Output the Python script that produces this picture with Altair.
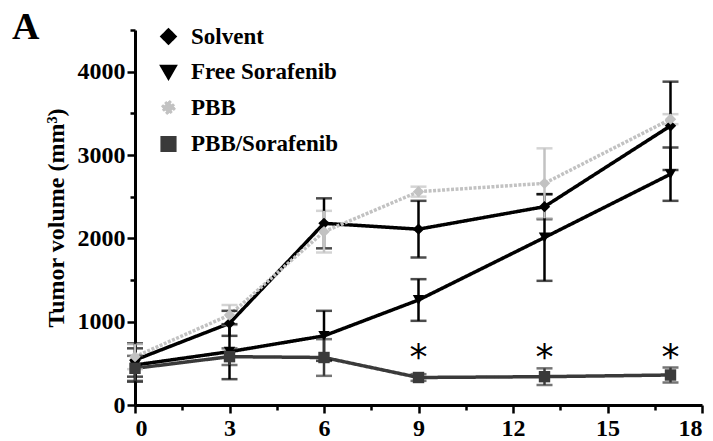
import altair as alt
import pandas as pd

days = [0, 3, 6, 9, 13, 17]
series_names = ["Solvent", "Free Sorafenib", "PBB", "PBB/Sorafenib"]
solvent_mean = [540, 980, 2180, 2110, 2380, 3350]
solvent_err = [200, 150, 300, 340, 150, 530]
free_mean = [480, 640, 830, 1260, 2010, 2770]
free_err = [200, 330, 300, 250, 520, 320]
pbb_mean = [580, 1080, 2080, 2560, 2660, 3430]
pbb_err = [150, 120, 250, 60, 420, 60]
pbs_mean = [440, 580, 570, 330, 340, 360]
pbs_err = [150, 100, 220, 40, 100, 90]
star_days = [9, 13, 17]
star_y = [660, 660, 660]

x_ticks = [i * 1.5 for i in range(13)]
y_ticks = [i * 500 for i in range(10)]

rows = []
for name, means, errs in zip(series_names,
                             [solvent_mean, free_mean, pbb_mean, pbs_mean],
                             [solvent_err, free_err, pbb_err, pbs_err]):
    for d, m, e in zip(days, means, errs):
        rows.append(dict(series=name, day=d, mean=m, lo=m - e, hi=m + e))
df = pd.DataFrame(rows)
stars = pd.DataFrame(dict(day=star_days, y=star_y, t=["*"] * 3))

FONT = "Liberation Serif"
colors = ["#000000", "#000000", "#c2c2c2", "#3a3a3a"]
shapes = ["diamond", "triangle-down", "diamond", "square"]
color_scale = alt.Scale(domain=series_names, range=colors)

axis_common = dict(domainColor="black", domainWidth=3, tickColor="black", tickWidth=2.5,
                   labelFont=FONT, labelFontWeight="bold", labelFontSize=24, labelColor="black",
                   grid=False, titleFont=FONT, titleFontWeight="bold", titleFontSize=24,
                   titleColor="black")

x_axis = alt.Axis(values=x_ticks, title=None, format="d",
                  labelExpr="datum.value % 3 === 0 ? datum.label : ''",
                  tickSize={"condition": {"test": "datum.value % 3 === 0", "value": 8}, "value": 5},
                  labelPadding=3, **axis_common)
x_scale = alt.Scale(domain=[0, 18], nice=False)
y_scale = alt.Scale(domain=[0, 4500], nice=False)
y_axis = alt.Axis(values=y_ticks, title="Tumor volume (mm³)", format="d",
                  labelExpr="datum.value % 1000 === 0 ? datum.label : ''",
                  tickSize={"condition": {"test": "datum.value % 1000 === 0", "value": 8}, "value": 5},
                  titlePadding=9, labelPadding=2, **axis_common)

legend = alt.Legend(title=None, orient="none", legendX=22, legendY=-5, padding=0,
                    labelFont=FONT, labelFontWeight="bold", labelFontSize=23,
                    labelColor="black", symbolSize=160, rowPadding=9.5,
                    labelOffset=11, symbolStrokeWidth=1, symbolOpacity=1)

color_enc = alt.Color("series:N", scale=color_scale, legend=legend)

base = alt.Chart(df)

lines = base.mark_line().encode(
    x=alt.X("day:Q", scale=x_scale, axis=x_axis),
    y=alt.Y("mean:Q", scale=y_scale, axis=y_axis),
    color=color_enc,
    strokeWidth=alt.StrokeWidth("series:N", scale=alt.Scale(domain=series_names, range=[3.5, 3.5, 1.8, 2.5]), legend=None),
    strokeDash=alt.StrokeDash("series:N", scale=alt.Scale(domain=series_names, range=[[1, 0], [1, 0], [3, 1.5], [1, 0]]), legend=None),
    detail="series:N",
)

errs = base.mark_errorbar(ticks=True, size=16, thickness=2.5).encode(
    x=alt.X("day:Q", scale=x_scale, axis=x_axis),
    y=alt.Y("lo:Q", scale=y_scale, axis=y_axis),
    y2="hi:Q",
    color=color_enc,
)

points = base.mark_point(filled=True, size=130, opacity=1).encode(
    x=alt.X("day:Q", scale=x_scale, axis=x_axis),
    y=alt.Y("mean:Q", scale=y_scale, axis=y_axis),
    color=color_enc,
    shape=alt.Shape("series:N", scale=alt.Scale(domain=series_names, range=shapes), legend=legend),
)

star_layer = alt.Chart(stars).mark_text(font="DejaVu Sans", fontSize=36, color="black",
                                         baseline="middle", dy=8).encode(
    x=alt.X("day:Q", scale=x_scale, axis=x_axis),
    y=alt.Y("y:Q", scale=y_scale, axis=y_axis),
    text="t:N")

chart = alt.layer(lines, errs, points, star_layer).properties(
    width=567, height=375,
    autosize=alt.AutoSizeParams(type="none"),
    padding={"left": 127, "top": 22, "right": 3, "bottom": 36},
    title=alt.TitleParams("A", anchor="start", frame="group", font=FONT, fontWeight="bold",
                          fontSize=38, color="black", baseline="top", offset=0, dx=-123, dy=22),
).configure_view(stroke=None)

chart.save("out.html", embed_options={"renderer": "svg", "actions": False})
